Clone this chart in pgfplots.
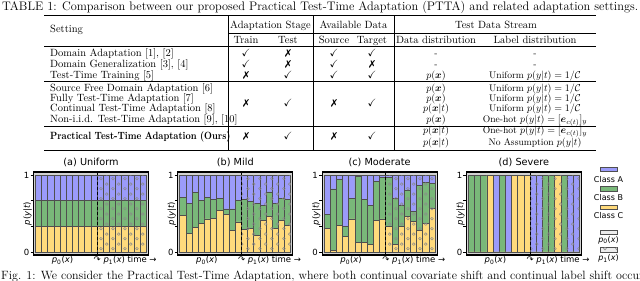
\documentclass[border=0pt]{standalone}
\usepackage{amsmath,amssymb}
\usepackage{pifont}
\usepackage{fontspec}
\usepackage{pgfplots}
\pgfplotsset{compat=1.18}
\usepackage{pgfplotstable}
\usetikzlibrary{patterns}
\newfontfamily\dv{DejaVu Sans}

\definecolor{cA}{HTML}{9B9BFA}
\definecolor{cB}{HTML}{79B879}
\definecolor{cC}{HTML}{FFDA7C}
\definecolor{edge}{HTML}{4F4F4F}
\definecolor{hatchc}{HTML}{8A8A8A}
\definecolor{bgc}{HTML}{D2D2D2}

\pgfdeclarepatternformonly{circs}{\pgfqpoint{0pt}{0pt}}{\pgfqpoint{12.3pt}{10pt}}{\pgfqpoint{12.3pt}{10pt}}{%
  \pgfsetlinewidth{0.55pt}%
  \pgfpathcircle{\pgfqpoint{3.1pt}{2.5pt}}{1.45pt}%
  \pgfpathcircle{\pgfqpoint{9.25pt}{7.5pt}}{1.45pt}%
  \pgfusepath{stroke}}

\newcommand\tf{\fontsize{10.5}{12}\selectfont}
\newcommand\mf{\fontsize{9.6}{11}\selectfont}
\newcommand\smf{\dv\fontsize{8.5}{10}\selectfont}
\newcommand\CK{$\checkmark$}
\newcommand\XX{\ding{55}}

\pgfplotsset{
  panel/.style={
    scale only axis, width=115pt, height=83pt, anchor=south west,
    xmin=-0.83, xmax=17.83, ymin=-0.04, ymax=1.04,
    axis on top,
    axis line style={line width=1.1pt, black},
    xtick=\empty,
    ytick={0,0.3333,0.6667,1}, yticklabels={0,,,1},
    ytick pos=left, tick align=outside, major tick length=3pt,
    tick style={line width=0.7pt, black},
    yticklabel style={font=\smf, inner sep=1pt},
    axis background/.style={fill=bgc},
    ylabel={\itshape p\upshape(\itshape y\upshape|\itshape t\upshape)},
    ylabel style={font=\smf, at={(axis description cs:-0.012,0.5)}, anchor=south, inner sep=0pt},
    title style={font=\dv\fontsize{9.7}{11}\selectfont, at={(axis description cs:0.5,1)}, anchor=south, inner sep=0pt, yshift=-1pt},
  },
  bars/.style={ybar, bar width=1, bar shift=0pt, draw=edge, line width=0.75pt},
  hatch/.style={ybar, bar width=1, bar shift=0pt, draw=none, pattern=circs, pattern color=hatchc, restrict x to domain=9.6:20},
  divider/.style={black, line width=1.1pt, dash pattern=on 3pt off 2pt},
}

\pgfplotstableread{
x c b a
0 0.3333 0.6667 1
1 0.3333 0.6667 1
2 0.3333 0.6667 1
3 0.3333 0.6667 1
4 0.3333 0.6667 1
5 0.3333 0.6667 1
6 0.3333 0.6667 1
7 0.3333 0.6667 1
8 0.3333 0.6667 1
9 0.3333 0.6667 1
10 0.3333 0.6667 1
11 0.3333 0.6667 1
12 0.3333 0.6667 1
13 0.3333 0.6667 1
14 0.3333 0.6667 1
15 0.3333 0.6667 1
16 0.3333 0.6667 1
17 0.3333 0.6667 1
}\tUniform

\pgfplotstableread{
x c b a
0 0.47 0.71 1
1 0.24 0.63 1
2 0.32 0.77 1
3 0.37 0.67 1
4 0.43 0.71 1
5 0.44 0.68 1
6 0.54 0.70 1
7 0.49 0.56 1
8 0.28 0.56 1
9 0.39 0.67 1
10 0.29 0.68 1
11 0.30 0.66 1
12 0.21 0.63 1
13 0.41 0.60 1
14 0.46 0.78 1
15 0.30 0.63 1
16 0.41 0.70 1
17 0.34 0.68 1
}\tMild

\pgfplotstableread{
x c b a
0 0.30 0.49 1
1 0.02 0.82 1
2 0.35 0.94 1
3 0.20 0.33 1
4 0.43 0.70 1
5 0.12 0.98 1
6 0.12 0.68 1
7 0.10 0.60 1
8 0.41 0.92 1
9 0.43 0.97 1
10 0.33 0.97 1
11 0.10 0.70 1
12 0.33 0.61 1
13 0.46 0.80 1
14 0.40 0.53 1
15 0.28 0.86 1
16 0.37 0.90 1
17 0.57 0.89 1
}\tModerate

\pgfplotstableread{
x c b a
0 0 1 1
1 0 1 1
2 0 1 1
3 1 1 1
4 0 0 1
5 0 1 1
6 0 0 1
7 1 1 1
8 1 1 1
9 1 1 1
10 0 0 1
11 0 0 1
12 0 1 1
13 0 1 1
14 1 1 1
15 0 1 1
16 0 0 1
17 0 0 1
}\tSevere

\newcommand\panel[3]{%
\begin{axis}[panel, at={(#1pt,26pt)}, title={#2}]
\addplot[bars, fill=cA] table[x=x,y=a]{#3};
\addplot[bars, fill=cB] table[x=x,y=b]{#3};
\addplot[bars, fill=cC] table[x=x,y=c]{#3};
\addplot[hatch] table[x=x,y=a]{#3};
\addplot[divider] coordinates {(9.5,-0.04) (9.5,1.04)};
\end{axis}
\node[anchor=base, inner sep=0pt] at (#1+29, 18) {\smf\itshape p\upshape\textsubscript{0}(\itshape x\upshape)};
\node[anchor=base west, inner sep=0pt] at (#1+60, 18) {\smf ↷ \itshape p\upshape\textsubscript{1}(\itshape x\upshape) time →};
}

\begin{document}
\begin{tikzpicture}[x=1pt,y=1pt]
\path[use as bounding box] (0,0) rectangle (640,281);
\clip (0,0) rectangle (640,281);

% ---- table title
\node[anchor=base west, inner sep=0pt] at (2,270.8) {\resizebox{636pt}{!}{\fontsize{11}{13}\selectfont TABLE 1: Comparison between our proposed Practical Test-Time Adaptation (PTTA) and related adaptation settings.}};

% ---- rules
\draw[line width=1.2pt] (44,265.4) -- (596,265.4);
\draw[line width=0.5pt] (228,247.5) -- (596,247.5);
\draw[line width=0.6pt] (44,235) -- (596,235);
\draw[line width=0.6pt] (44,199.5) -- (596,199.5);
\draw[line width=0.6pt] (44,155) -- (596,155);
\draw[line width=1.2pt] (44,130.5) -- (596,130.5);
\foreach \vx in {228,313,394} \draw[line width=0.5pt] (\vx,265) -- (\vx,131);

% ---- headers
\node[anchor=base west, inner sep=0pt] at (50,248.5) {\tf Setting};
\node[anchor=base, inner sep=0pt] at (270.5,252.2) {\tf Adaptation Stage};
\node[anchor=base, inner sep=0pt] at (353.5,252.2) {\tf Available Data};
\node[anchor=base, inner sep=0pt] at (496,252.2) {\tf Test Data Stream};
\node[anchor=base, inner sep=0pt] at (246,237.3) {\tf Train};
\node[anchor=base, inner sep=0pt] at (288,237.3) {\tf Test};
\node[anchor=base, inner sep=0pt] at (334,237.3) {\tf Source};
\node[anchor=base, inner sep=0pt] at (372,237.3) {\tf Target};
\node[anchor=base, inner sep=0pt] at (436,237.3) {\tf Data distribution};
\node[anchor=base, inner sep=0pt] at (535,237.3) {\tf Label distribution};

% ---- rows 1-3
\node[anchor=base west, inner sep=0pt] at (50,224.2) {\tf Domain Adaptation [1], [2]};
\node[anchor=base west, inner sep=0pt] at (50,213.7) {\tf Domain Generalization [3], [4]};
\node[anchor=base west, inner sep=0pt] at (50,202.9) {\tf Test-Time Training [5]};
\foreach \yy/\a/\b/\c/\d in {224.2/\CK/\XX/\CK/\CK, 213.7/\CK/\XX/\CK/\XX, 202.9/\XX/\CK/\CK/\CK}{
  \node[anchor=base, inner sep=0pt] at (246,\yy) {\tf \a};
  \node[anchor=base, inner sep=0pt] at (288,\yy) {\tf \b};
  \node[anchor=base, inner sep=0pt] at (334,\yy) {\tf \c};
  \node[anchor=base, inner sep=0pt] at (372,\yy) {\tf \d};
}
\node[anchor=base, inner sep=0pt] at (436,224.2) {\mf -};
\node[anchor=base, inner sep=0pt] at (535,224.2) {\mf -};
\node[anchor=base, inner sep=0pt] at (436,213.7) {\mf -};
\node[anchor=base, inner sep=0pt] at (535,213.7) {\mf -};
\node[anchor=base, inner sep=0pt] at (436,202.9) {\mf $p(\boldsymbol{x})$};
\node[anchor=base, inner sep=0pt] at (535,202.9) {\mf Uniform $p(y|t) = 1/\mathcal{C}$};

% ---- rows 4-7
\node[anchor=base west, inner sep=0pt] at (50,189.5) {\tf Source Free Domain Adaptation [6]};
\node[anchor=base west, inner sep=0pt] at (50,179.2) {\tf Fully Test-Time Adaptation [7]};
\node[anchor=base west, inner sep=0pt] at (50,169.2) {\tf Continual Test-Time Adaptation [8]};
\node[anchor=base west, inner sep=0pt] at (50,158.7) {\tf Non-i.i.d. Test-Time Adaptation [9], [10]};
\node[anchor=base, inner sep=0pt] at (246,174.1) {\tf \XX};
\node[anchor=base, inner sep=0pt] at (288,174.1) {\tf \CK};
\node[anchor=base, inner sep=0pt] at (334,174.1) {\tf \XX};
\node[anchor=base, inner sep=0pt] at (372,174.1) {\tf \CK};
\node[anchor=base, inner sep=0pt] at (436,189.5) {\mf $p(\boldsymbol{x})$};
\node[anchor=base, inner sep=0pt] at (436,179.2) {\mf $p(\boldsymbol{x})$};
\node[anchor=base, inner sep=0pt] at (436,169.2) {\mf $p(\boldsymbol{x}|t)$};
\node[anchor=base, inner sep=0pt] at (436,158.7) {\mf $p(\boldsymbol{x})$};
\node[anchor=base, inner sep=0pt] at (535,189.5) {\mf Uniform $p(y|t) = 1/\mathcal{C}$};
\node[anchor=base, inner sep=0pt] at (535,179.2) {\mf Uniform $p(y|t) = 1/\mathcal{C}$};
\node[anchor=base, inner sep=0pt] at (535,169.2) {\mf Uniform $p(y|t) = 1/\mathcal{C}$};
\node[anchor=base, inner sep=0pt] at (535,158.7) {\mf One-hot $p(y|t) = [\boldsymbol{e}_{c(t)}]_y$};

% ---- ours
\node[anchor=base west, inner sep=0pt] at (50,141.2) {\scalebox{0.87}[1]{\tf\bfseries Practical Test-Time Adaptation (Ours)}};
\node[anchor=base, inner sep=0pt] at (246,141.2) {\tf \XX};
\node[anchor=base, inner sep=0pt] at (288,141.2) {\tf \CK};
\node[anchor=base, inner sep=0pt] at (334,141.2) {\tf \XX};
\node[anchor=base, inner sep=0pt] at (372,141.2) {\tf \CK};
\node[anchor=base, inner sep=0pt] at (436,147) {\mf $p(\boldsymbol{x}|t)$};
\node[anchor=base, inner sep=0pt] at (436,135.8) {\mf $p(\boldsymbol{x}|t)$};
\node[anchor=base, inner sep=0pt] at (535,147) {\mf One-hot $p(y|t) = [\boldsymbol{e}_{c(t)}]_y$};
\node[anchor=base, inner sep=0pt] at (535,135.8) {\mf No Assumption $p(y|t)$};

% ---- panels
\panel{33.5}{(a) Uniform}{\tUniform}
\panel{177.8}{(b) Mild}{\tMild}
\panel{322.1}{(c) Moderate}{\tModerate}
\panel{466.4}{(d) Severe}{\tSevere}

% ---- legend
\draw[fill=cA, draw=edge, line width=0.5pt] (600,109.3) rectangle (617,113.7);
\node[inner sep=0pt] at (608.5,101.7) {\dv\fontsize{8}{9}\selectfont Class A};
\draw[fill=cB, draw=edge, line width=0.5pt] (600,90) rectangle (617,94.3);
\node[inner sep=0pt] at (608.5,83.5) {\dv\fontsize{8}{9}\selectfont Class B};
\draw[fill=cC, draw=edge, line width=0.5pt] (600,71.7) rectangle (617,76);
\node[inner sep=0pt] at (608.5,65.5) {\dv\fontsize{8}{9}\selectfont Class C};
\draw[fill=gray!15, draw=edge, line width=0.5pt] (600,46.7) rectangle (617,51);
\node[inner sep=0pt] at (608.5,41) {\dv\fontsize{8}{9}\selectfont\itshape p\upshape\textsubscript{0}(\itshape x\upshape)};
\draw[fill=gray!15, draw=edge, line width=0.5pt] (600,29) rectangle (617,33.7);
\fill[pattern=circs, pattern color=hatchc] (600,29) rectangle (617,33.7);
\node[inner sep=0pt] at (608.5,22.7) {\dv\fontsize{8}{9}\selectfont\itshape p\upshape\textsubscript{1}(\itshape x\upshape)};

% ---- caption
\node[anchor=base west, inner sep=0pt] at (1,1.8) {\fontsize{12}{14}\selectfont Fig. 1: We consider the Practical Test-Time Adaptation, where both continual covariate shift and continual label shift occur over time.};
\end{tikzpicture}
\end{document}
